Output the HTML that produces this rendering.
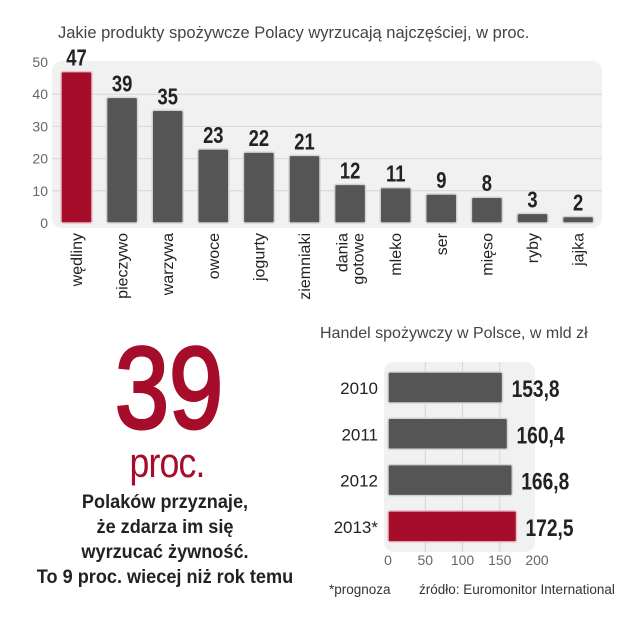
<!DOCTYPE html>
<html><head><meta charset="utf-8"><style>
html,body{margin:0;padding:0;background:#fff;width:640px;height:640px;overflow:hidden}
svg{display:block;font-family:"Liberation Sans",sans-serif}
</style></head><body>
<svg id="s" width="640" height="640" viewBox="0 0 640 640">
<text x="58" y="38" font-size="16.5" fill="#444">Jakie produkty spożywcze Polacy wyrzucają najczęściej, w proc.</text>
<rect x="52" y="61" width="550" height="167" rx="10" fill="#f1f1f1"/>
<g id="topg"></g>
<text x="320" y="338" font-size="16" fill="#444">Handel spożywczy w Polsce, w mld zł</text>
<rect x="384" y="362" width="151" height="190" rx="10" fill="#f1f1f1"/>
<g id="botg"></g>
<text transform="translate(169,428) scale(0.84,1)" text-anchor="middle" font-size="116" fill="#a50d2b" stroke="#a50d2b" stroke-width="3">39</text>
<text transform="translate(167,477) scale(0.85,1)" text-anchor="middle" font-size="42" fill="#a50d2b" letter-spacing="-1">proc.</text>
<g font-size="19.5" font-weight="bold" fill="#222" text-anchor="middle">
<text x="165" y="508" transform="translate(165,0) scale(0.93,1) translate(-165,0)">Polaków przyznaje,</text>
<text x="165" y="533" transform="translate(165,0) scale(0.93,1) translate(-165,0)">że zdarza im się</text>
<text x="165" y="558" transform="translate(165,0) scale(0.93,1) translate(-165,0)">wyrzucać żywność.</text>
<text x="165" y="583" transform="translate(165,0) scale(0.93,1) translate(-165,0)">To 9 proc. wiecej niż rok temu</text>
</g>
<text x="329" y="594" font-size="13.5" fill="#333">*prognoza</text>
<text x="419" y="594" font-size="13.5" fill="#333">źródło: Euromonitor International</text>
</svg>
<script>
const cats=["wędliny","pieczywo","warzywa","owoce","jogurty","ziemniaki","dania|gotowe","mleko","ser","mięso","ryby","jajka"];
const vals=[47,39,35,23,22,21,12,11,9,8,3,2];
const yTicks=[0,10,20,30,40,50];
const years=["2010","2011","2012","2013*"];
const sales=[153.8,160.4,166.8,172.5];
const salesLabels=["153,8","160,4","166,8","172,5"];
const xTicks=[0,50,100,150,200];
const NS="http://www.w3.org/2000/svg";
function mk(p,t,a,txt){const e=document.createElementNS(NS,t);for(const k in a)e.setAttribute(k,a[k]);if(txt!==undefined)e.textContent=txt;p.appendChild(e);return e;}
const topG=document.getElementById('topg');
const yS=v=>223-v*3.22;
const xc=i=>76.5+i*45.6;
yTicks.forEach(t=>{
  if(t>0&&t<50){const l=mk(topG,'line',{x1:52,x2:602,y1:yS(t),y2:yS(t),stroke:'#d6d6d6','stroke-width':1});
  
  }
  const tx=mk(topG,'text',{x:48,y:yS(t)+5,'text-anchor':'end','font-size':14,fill:'#666'},String(t));
  
  
});
vals.forEach((v,i)=>{
  const h=Math.max(v*3.22,3);
  const r=mk(topG,'rect',{x:xc(i)-15.5,y:223-h,width:31,height:h,rx:2,fill:i===0?'#a50d2b':'#555',stroke:i===0?'#e8c0c8':'#d4d4d4','stroke-width':1.5});
  
  
  const t=mk(topG,'text',{transform:`translate(${xc(i)},${223-h-6}) scale(0.8,1)`,'text-anchor':'middle','font-size':23,'font-weight':'bold',fill:'#222'},String(v));
  
  
  const parts=cats[i].split('|');
  parts.forEach((p,j)=>{
    const off=(j-(parts.length-1)/2)*16;
    const c=mk(topG,'text',{transform:`translate(${xc(i)+5.5+off},233) rotate(-90)`,'text-anchor':'end','font-size':16,fill:'#222'},p);
    
    
  });
});
const botG=document.getElementById('botg');
const bx=v=>388+v*0.745;
const by=i=>372+i*46.3;
xTicks.forEach(t=>{
  if(t>0&&t<200){const l=mk(botG,'line',{x1:bx(t),x2:bx(t),y1:362,y2:552,stroke:'#d6d6d6','stroke-width':1});
  
  }
  const tx=mk(botG,'text',{x:bx(t),y:565,'text-anchor':'middle','font-size':14,fill:'#666'},String(t));
  
  
});
sales.forEach((v,i)=>{
  const r=mk(botG,'rect',{x:388,y:by(i),width:bx(v)-388,height:31,rx:2,fill:i===3?'#a50d2b':'#555',stroke:i===3?'#e8c0c8':'#d4d4d4','stroke-width':1.5});
  
  
  const yl=mk(botG,'text',{x:378,y:by(i)+22,'text-anchor':'end','font-size':17,fill:'#222'},years[i]);
  
  
  const vl=mk(botG,'text',{transform:`translate(${bx(v)+9},${by(i)+25}) scale(0.8,1)`,'font-size':24,'font-weight':'bold',fill:'#222'},salesLabels[i]);
  
  
});
</script>
</body></html>
